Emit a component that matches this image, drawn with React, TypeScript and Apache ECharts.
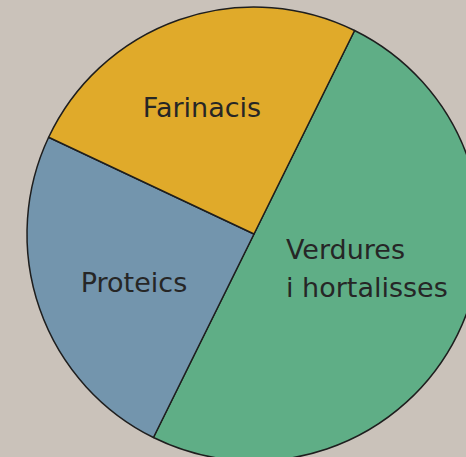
import React, { useEffect, useRef } from "react";
import * as echarts from "echarts";

const categories = ["Verdures\ni hortalisses", "Proteics", "Farinacis"];
const values = [50, 24.7, 25.3];
const colors = ["#5fae86", "#7395ad", "#e0aa2a"];
const labelAnchors: { x: number; y: number; align: "left" | "center" }[] = [
  { x: 286, y: 268, align: "left" },
  { x: 134, y: 282, align: "center" },
  { x: 202, y: 107, align: "center" },
];

export default function App() {
  const ref = useRef<HTMLDivElement>(null);
  useEffect(() => {
    if (!ref.current) return;
    const chart = echarts.init(ref.current, null, { renderer: "svg" });
    chart.setOption({
      animation: false,
      backgroundColor: "#cac2ba",
      series: [
        {
          type: "pie",
          center: [254, 234],
          radius: 227,
          startAngle: 63.7,
          clockwise: true,
          silent: true,
          data: categories.map((name, i) => ({
            name,
            value: values[i],
            itemStyle: { color: colors[i] },
          })),
          itemStyle: { borderColor: "#1e1e1e", borderWidth: 1.5 },
          label: {
            show: true,
            position: "inside",
            formatter: "{b}",
            color: "#262626",
            fontFamily: "DejaVu Sans",
            fontSize: 27,
            lineHeight: 38,
          },
          labelLine: { show: false },
          labelLayout: (params: any) => {
            const a = labelAnchors[params.dataIndex];
            return { x: a.x, y: a.y, align: a.align, verticalAlign: "middle" };
          },
        },
      ],
    });
    return () => chart.dispose();
  }, []);
  return (
    <div
      ref={ref}
      style={{ position: "fixed", left: 0, top: 0, width: 466, height: 457 }}
    />
  );
}
